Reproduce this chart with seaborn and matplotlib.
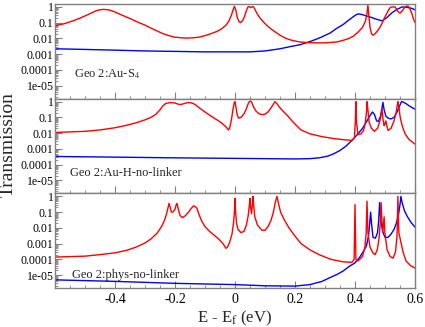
import numpy as np
import pandas as pd
import matplotlib
matplotlib.use("Agg")
import matplotlib.pyplot as plt
import seaborn as sns
from matplotlib.ticker import LogLocator, MultipleLocator, NullFormatter

# ---------------- data ----------------
panel_labels = ["Geo 2:Au-S$_4$", "Geo 2:Au-H-no-linker", "Geo 2:phys-no-linker"]
ytick_vals = [1e-5, 1e-4, 1e-3, 1e-2, 1e-1, 1]
ytick_labels = ["1e-05", "0.0001", "0.001", "0.01", "0.1", "1"]
xtick_vals = [-0.4, -0.2, 0, 0.2, 0.4, 0.6]
xtick_labels = ["-0.4", "-0.2", "0", "0.2", "0.4", "0.6"]

# Panel 1 (Au-S4)
p1_red_E = [-0.6, -0.57, -0.54, -0.51, -0.48, -0.46, -0.44, -0.42, -0.40, -0.38,
            -0.36, -0.34, -0.32, -0.30, -0.28, -0.26, -0.24, -0.22, -0.20, -0.18,
            -0.16, -0.14, -0.12, -0.10, -0.08, -0.06, -0.045, -0.03, -0.02, -0.012,
            -0.006, -0.002, 0.003, 0.008, 0.013, 0.018, 0.025, 0.032, 0.038, 0.043,
            0.048, 0.052, 0.056, 0.06, 0.065, 0.07, 0.077, 0.085, 0.095, 0.105,
            0.12, 0.135, 0.15, 0.17, 0.19, 0.215, 0.25, 0.30, 0.34, 0.36,
            0.38, 0.395, 0.41, 0.425, 0.435, 0.44, 0.443, 0.446, 0.45, 0.455,
            0.46, 0.467, 0.475, 0.483, 0.49, 0.497, 0.505, 0.512, 0.518, 0.525,
            0.533, 0.538, 0.543, 0.55, 0.557, 0.565, 0.572, 0.578, 0.584, 0.59,
            0.595, 0.6]
p1_red_T = [0.063, 0.085, 0.13, 0.22, 0.4, 0.6, 0.7, 0.65, 0.48, 0.32,
            0.22, 0.15, 0.10, 0.07, 0.045, 0.03, 0.02, 0.015, 0.012, 0.011,
            0.0105, 0.011, 0.012, 0.015, 0.02, 0.028, 0.04, 0.07, 0.13, 0.3,
            0.7, 1.1, 0.6, 0.2, 0.12, 0.1, 0.13, 0.25, 0.6, 1.0,
            1.05, 0.9, 1.0, 1.05, 0.8, 0.5, 0.3, 0.18, 0.11, 0.07,
            0.04, 0.025, 0.016, 0.01, 0.0075, 0.006, 0.0053, 0.0052, 0.006, 0.0075,
            0.01, 0.014, 0.025, 0.05, 0.13, 0.4, 1.3, 0.3, 0.05, 0.02,
            0.016, 0.02, 0.03, 0.05, 0.09, 0.18, 0.35, 0.65, 0.95, 1.0,
            1.0, 0.75, 0.5, 0.4, 0.55, 0.9, 1.15, 1.1, 0.7, 0.35,
            0.17, 0.1]
p1_blue_E = [-0.6, -0.5, -0.4, -0.3, -0.2, -0.1, 0.0, 0.05, 0.1, 0.15,
             0.183, 0.217, 0.25, 0.283, 0.317, 0.34, 0.36, 0.38, 0.393, 0.405,
             0.413, 0.425, 0.45, 0.47, 0.49, 0.505, 0.523, 0.54, 0.557, 0.575,
             0.59, 0.6]
p1_blue_T = [0.0022, 0.002, 0.0018, 0.0016, 0.0015, 0.0014, 0.0014, 0.0014, 0.0016, 0.0022,
             0.003, 0.004, 0.0063, 0.011, 0.022, 0.045, 0.075, 0.15, 0.23, 0.33,
             0.36, 0.32, 0.23, 0.17, 0.13, 0.2, 0.42, 0.7, 1.0, 0.95,
             0.8, 0.65]

# Panel 2 (Au-H-no-linker)
p2_red_E = [-0.6, -0.55, -0.5, -0.45, -0.4, -0.36, -0.33, -0.30, -0.28, -0.265,
            -0.25, -0.24, -0.23, -0.215, -0.2, -0.185, -0.175, -0.16, -0.15, -0.14,
            -0.13, -0.12, -0.10, -0.08, -0.06, -0.045, -0.03, -0.022, -0.018, -0.012,
            -0.007, -0.003, 0.0, 0.003, 0.007, 0.012, 0.02, 0.03, 0.038, 0.044,
            0.048, 0.053, 0.057, 0.062, 0.07, 0.08, 0.09, 0.10, 0.11, 0.12,
            0.127, 0.133, 0.14, 0.148, 0.16, 0.175, 0.19, 0.205, 0.22, 0.25,
            0.29, 0.33, 0.37, 0.39, 0.398, 0.401, 0.403, 0.405, 0.41, 0.42,
            0.428, 0.434, 0.438, 0.44, 0.443, 0.447, 0.455, 0.465, 0.475, 0.482,
            0.487, 0.49, 0.493, 0.497, 0.50, 0.503, 0.506, 0.51, 0.52, 0.53,
            0.537, 0.541, 0.543, 0.546, 0.55, 0.557, 0.567, 0.58, 0.6]
p2_red_T = [0.011, 0.012, 0.013, 0.016, 0.022, 0.032, 0.045, 0.07, 0.1, 0.15,
            0.3, 0.55, 0.78, 0.87, 0.82, 0.65, 0.7, 0.85, 0.87, 0.78,
            0.6, 0.42, 0.22, 0.12, 0.07, 0.045, 0.025, 0.016, 0.02, 0.07,
            0.3, 0.8, 1.0, 0.5, 0.15, 0.09, 0.1, 0.17, 0.35, 0.75,
            1.0, 1.1, 0.8, 0.45, 0.25, 0.17, 0.15, 0.16, 0.22, 0.4,
            0.65, 1.0, 0.75, 0.45, 0.25, 0.13, 0.06, 0.03, 0.016, 0.009,
            0.006, 0.0045, 0.0037, 0.0035, 0.005, 0.05, 1.0, 0.05, 0.008, 0.009,
            0.014, 0.04, 0.2, 1.0, 0.3, 0.05, 0.02, 0.013, 0.02, 0.05,
            0.15, 0.35, 0.08, 0.03, 0.04, 0.06, 0.03, 0.015, 0.02, 0.06,
            0.2, 0.6, 1.0, 0.5, 0.12, 0.03, 0.009, 0.004, 0.002]
p2_blue_E = [-0.6, -0.4, -0.2, 0.0, 0.2, 0.25, 0.28, 0.31, 0.33, 0.35,
             0.37, 0.39, 0.41, 0.425, 0.44, 0.45, 0.458, 0.465, 0.472, 0.478,
             0.485, 0.49, 0.493, 0.497, 0.503, 0.51, 0.52, 0.53, 0.54, 0.548,
             0.555, 0.56, 0.57, 0.58, 0.59, 0.6]
p2_blue_T = [0.00033, 0.0003, 0.00027, 0.00025, 0.00023, 0.00024, 0.00027, 0.00035, 0.0005, 0.0008,
             0.0015, 0.0035, 0.009, 0.02, 0.06, 0.13, 0.22, 0.15, 0.06, 0.055,
             0.12, 0.4, 0.9, 0.3, 0.12, 0.09, 0.08, 0.1, 0.22, 0.5,
             1.0, 0.95, 0.75, 0.55, 0.42, 0.33]

# Panel 3 (phys-no-linker)
p3_red_E = [-0.6, -0.5, -0.45, -0.4, -0.36, -0.33, -0.30, -0.28, -0.26, -0.245,
            -0.235, -0.228, -0.223, -0.22, -0.216, -0.212, -0.207, -0.2, -0.196, -0.193,
            -0.189, -0.183, -0.175, -0.165, -0.155, -0.145, -0.138, -0.132, -0.127, -0.12,
            -0.11, -0.10, -0.085, -0.07, -0.055, -0.04, -0.03, -0.025, -0.018, -0.01,
            -0.005, -0.002, 0.0, 0.002, 0.005, 0.01, 0.02, 0.03, 0.038, 0.044,
            0.048, 0.05, 0.052, 0.055, 0.058, 0.06, 0.062, 0.066, 0.075, 0.09,
            0.10, 0.11, 0.12, 0.128, 0.134, 0.14, 0.145, 0.152, 0.165, 0.18,
            0.20, 0.22, 0.25, 0.28, 0.32, 0.36, 0.39, 0.397, 0.40, 0.403,
            0.41, 0.425, 0.433, 0.437, 0.44, 0.443, 0.45, 0.46, 0.467, 0.474,
            0.48, 0.484, 0.487, 0.49, 0.493, 0.497, 0.50, 0.507, 0.517, 0.527,
            0.535, 0.54, 0.543, 0.546, 0.552, 0.56, 0.57, 0.585, 0.6]
p3_red_T = [1.4e-4, 1.6e-4, 2e-4, 2.6e-4, 3.8e-4, 6e-4, 1.1e-3, 2e-3, 4.5e-3, 0.012,
            0.03, 0.08, 0.2, 0.36, 0.2, 0.1, 0.1, 0.15, 0.3, 0.35,
            0.15, 0.06, 0.045, 0.06, 0.1, 0.18, 0.25, 0.22, 0.18, 0.07,
            0.025, 0.012, 0.006, 0.0035, 0.002, 0.001, 5e-4, 6e-4, 0.0012, 0.004,
            0.02, 0.1, 0.75, 0.1, 0.02, 0.008, 0.005, 0.006, 0.015, 0.06,
            0.3, 0.75, 0.2, 0.08, 0.3, 1.0, 0.3, 0.05, 0.015, 0.007,
            0.007, 0.012, 0.03, 0.1, 0.4, 1.0, 0.35, 0.1, 0.03, 0.01,
            0.003, 1e-3, 4e-4, 2e-4, 1e-4, 7e-5, 6.5e-5, 1e-4, 0.3, 1e-4,
            8e-5, 1.5e-4, 6e-4, 0.004, 0.5, 0.005, 6e-4, 2.5e-4, 2e-4, 4e-4,
            0.002, 0.02, 0.4, 0.02, 0.006, 0.05, 0.004, 4e-4, 1.5e-4, 1.2e-4,
            3e-4, 0.003, 1.0, 0.005, 0.0015, 3e-4, 8e-5, 4e-5, 2.8e-5]
p3_blue_E = [-0.6, -0.4, -0.2, 0.0, 0.1, 0.2, 0.25, 0.29, 0.317, 0.34,
             0.36, 0.38, 0.40, 0.415, 0.427, 0.438, 0.445, 0.449, 0.452, 0.455,
             0.46, 0.468, 0.475, 0.479, 0.482, 0.486, 0.492, 0.50, 0.51, 0.52,
             0.53, 0.538, 0.545, 0.55, 0.553, 0.557, 0.565, 0.575, 0.587, 0.6]
p3_blue_T = [5e-6, 4e-6, 3e-6, 2.5e-6, 2.1e-6, 2e-6, 2.5e-6, 4e-6, 7e-6, 1.1e-5,
             1.8e-5, 3.5e-5, 6e-5, 1.3e-4, 3e-4, 7e-4, 0.003, 0.02, 0.1, 0.02,
             0.0025, 0.0022, 0.005, 0.03, 0.4, 0.03, 0.006, 0.0025, 0.0025, 0.004,
             0.008, 0.02, 0.07, 0.3, 1.0, 0.4, 0.12, 0.05, 0.022, 0.011]

panels = [
    (p1_red_E, p1_red_T, p1_blue_E, p1_blue_T),
    (p2_red_E, p2_red_T, p2_blue_E, p2_blue_T),
    (p3_red_E, p3_red_T, p3_blue_E, p3_blue_T),
]
label_pos = [(0.053, 0.26), (0.042, 0.22), (0.047, 0.14)]

# ---------------- styling ----------------
sns.set_style("ticks")
plt.rcParams['font.family'] = ['Liberation Serif', 'DejaVu Serif']
plt.rcParams['mathtext.fontset'] = 'stix'
grey = '#808080'

fig, axes = plt.subplots(3, 1, figsize=(4.25, 3.27), dpi=100, sharex=True)
fig.subplots_adjust(left=0.1294, right=0.9765, top=0.988, bottom=0.119, hspace=0)

for i, ax in enumerate(axes):
    rE, rT, bE, bT = panels[i]
    df_r = pd.DataFrame({"E": rE, "T": rT})
    df_b = pd.DataFrame({"E": bE, "T": bT})
    sns.lineplot(data=df_b, x="E", y="T", ax=ax, color="#0000ff", lw=1.0,
                 sort=False, estimator=None)
    sns.lineplot(data=df_r, x="E", y="T", ax=ax, color="#ff0000", lw=1.0,
                 sort=False, estimator=None)
    ax.set_yscale("log")
    ax.set_ylim(1.5e-6, 1.55)
    ax.set_xlim(-0.6, 0.6)
    ax.set_yticks(ytick_vals)
    ax.set_yticklabels(ytick_labels)
    ax.yaxis.set_minor_locator(LogLocator(base=10, subs=np.arange(2, 10), numticks=20))
    ax.yaxis.set_minor_formatter(NullFormatter())
    ax.xaxis.set_major_locator(MultipleLocator(0.2))
    ax.xaxis.set_minor_locator(MultipleLocator(0.05))
    ax.tick_params(axis='both', which='both', direction='in', colors=grey,
                   labelcolor='black', top=False, right=False)
    ax.tick_params(axis='y', labelsize=8.5, pad=1)
    ax.tick_params(axis='x', labelsize=10)
    ax.tick_params(axis='both', which='major', length=5, width=0.8)
    ax.tick_params(axis='both', which='minor', length=2.5, width=0.6)
    for sp in ax.spines.values():
        sp.set_color(grey)
        sp.set_linewidth(1.0)
        sp.set_visible(True)
    ax.set_xlabel("")
    ax.set_ylabel("")
    ax.text(label_pos[i][0], label_pos[i][1], panel_labels[i], transform=ax.transAxes,
            fontsize=9, va='center', ha='left')
    if i < 2:
        ax.tick_params(axis='x', labelbottom=False)

axes[-1].set_xticks(xtick_vals)
axes[-1].set_xticklabels(xtick_labels)
axes[-1].set_xlabel(r"E - E$_\mathrm{f}$ (eV)", fontsize=12, labelpad=2)
fig.text(0.0, 1 - 145 / 327, "Transmission", rotation=90, fontsize=14,
         va='center', ha='left')

fig.savefig("out.png", dpi=100)
